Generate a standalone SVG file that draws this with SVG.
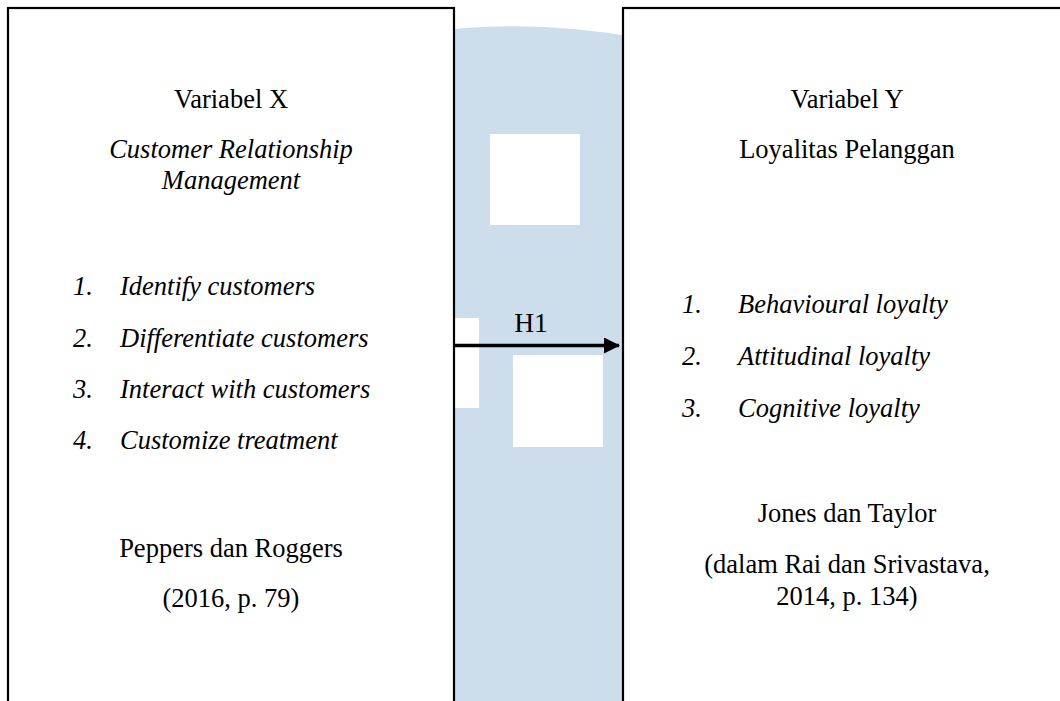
<svg xmlns="http://www.w3.org/2000/svg" width="1060" height="701" viewBox="0 0 1060 701">
  <style>
    text { font-family: "Liberation Serif", "Times New Roman", serif; font-size: 26.5px; fill: #000; }
    .c { text-anchor: middle; }
    .i { font-style: italic; }
    .box { fill: #fff; stroke: #000; stroke-width: 2.2; }
    .wm { fill: #CDDDEC; }
    .wh { fill: #fff; }
  </style>
  <defs>
    <marker id="arrow" markerWidth="16" markerHeight="16" refX="15" refY="8" orient="auto" markerUnits="userSpaceOnUse">
      <path d="M0,0 L16,8 L0,16 Z" fill="#000"/>
    </marker>
  </defs>
  <rect x="0" y="0" width="1060" height="701" fill="#fff"/>
  <g id="watermark">
    <path class="wm" d="M430,32 Q530,18 640,38 L640,701 L430,701 Z"/>
    <rect class="wh" x="490" y="134" width="90" height="91"/>
    <rect class="wh" x="513" y="355" width="90" height="92"/>
    <rect class="wh" x="440" y="318" width="39" height="90"/>
  </g>
  <g id="nodeX">
    <rect class="box" x="8" y="8" width="446" height="720"/>
    <text class="c" x="231" y="108">Variabel X</text>
    <text class="c i" x="231" y="158">Customer Relationship</text>
    <text class="c i" x="231" y="189">Management</text>
    <text class="i" x="73" y="295">1.</text>
    <text class="i" x="120" y="295">Identify customers</text>
    <text class="i" x="73" y="347">2.</text>
    <text class="i" x="120" y="347">Differentiate customers</text>
    <text class="i" x="73" y="398">3.</text>
    <text class="i" x="120" y="398">Interact with customers</text>
    <text class="i" x="73" y="449">4.</text>
    <text class="i" x="120" y="449">Customize treatment</text>
    <text class="c" x="231" y="557">Peppers dan Roggers</text>
    <text class="c" x="231" y="607">(2016, p. 79)</text>
  </g>
  <g id="nodeY">
    <rect class="box" x="623" y="8" width="500" height="720"/>
    <text class="c" x="847" y="108">Variabel Y</text>
    <text class="c" x="847" y="158">Loyalitas Pelanggan</text>
    <text class="i" x="682" y="313">1.</text>
    <text class="i" x="738" y="313">Behavioural loyalty</text>
    <text class="i" x="682" y="365">2.</text>
    <text class="i" x="738" y="365">Attitudinal loyalty</text>
    <text class="i" x="682" y="417">3.</text>
    <text class="i" x="738" y="417">Cognitive loyalty</text>
    <text class="c" x="847" y="522">Jones dan Taylor</text>
    <text class="c" x="847" y="573">(dalam Rai dan Srivastava,</text>
    <text class="c" x="847" y="605">2014, p. 134)</text>
  </g>
  <g id="connectors">
    <line x1="455" y1="345.5" x2="619" y2="345.5" stroke="#000" stroke-width="3.5" marker-end="url(#arrow)"/>
    <text class="c" x="531" y="332" style="font-size:27.5px">H1</text>
  </g>
</svg>
